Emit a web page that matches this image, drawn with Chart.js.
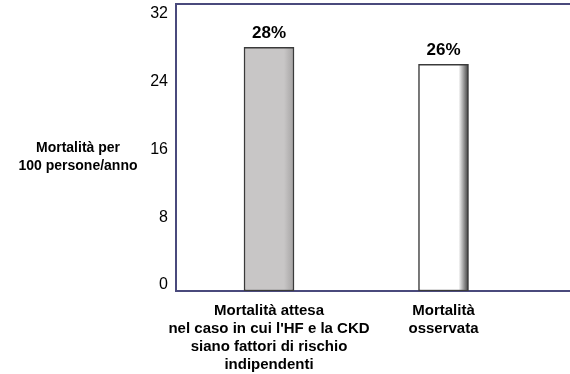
<!DOCTYPE html>
<html>
<head>
<meta charset="utf-8">
<script src="https://cdn.jsdelivr.net/npm/chart.js@4/dist/chart.umd.min.js"></script>
<style>
    body { margin: 0; background: #fff; }
    #wrap { width: 570px; height: 374px; position: relative; }
</style>
</head>
<body>
<div id="wrap"><canvas id="chart"></canvas></div>
<script>
// Data
const categories = [
    ['Mortalità attesa', "nel caso in cui l'HF e la CKD", 'siano fattori di rischio', 'indipendenti'],
    ['Mortalità', 'osservata']
];
const mortality = [28, 26];
const yTicks = [0, 8, 16, 24, 32];
const yTitle = ['Mortalità per', '100 persone/anno'];

const FONT = "'Liberation Sans', Arial, sans-serif";
const frameColor = '#4a4a7c';
const yMin = -0.7, yMax = 33.1;

// soft shadow on the right edge of each bar
const barFill = (ctx) => {
    const chart = ctx.chart;
    const base = ctx.dataIndex === 0 ? '#c8c6c6' : '#ffffff';
    if (!chart.chartArea) return base;
    const xc = chart.scales.x.getPixelForValue(ctx.dataIndex);
    const g = chart.ctx.createLinearGradient(xc - 25, 0, xc + 25, 0);
    g.addColorStop(0, base);
    g.addColorStop(0.8, base);
    g.addColorStop(1, ctx.dataIndex === 0 ? '#a4a2a2' : '#3c3c3c');
    return g;
};

const valueLabels = {
    id: 'valueLabels',
    afterDatasetsDraw(chart) {
        const c = chart.ctx;
        c.save();
        c.font = 'bold 17px ' + FONT;
        c.fillStyle = '#000';
        c.textAlign = 'center';
        c.textBaseline = 'bottom';
        chart.getDatasetMeta(0).data.forEach((el, i) => {
            c.fillText(mortality[i] + '%', el.x, el.y - 5);
        });
        c.restore();
    }
};

const sideTitle = {
    id: 'sideTitle',
    afterDraw(chart) {
        const c = chart.ctx;
        const yc = chart.scales.y.getPixelForValue(16) + 8;
        c.save();
        c.font = 'bold 14px ' + FONT;
        c.fillStyle = '#000';
        c.textAlign = 'center';
        c.textBaseline = 'middle';
        c.fillText(yTitle[0], 78, yc - 9);
        c.fillText(yTitle[1], 78, yc + 9);
        c.restore();
    }
};

new Chart(document.getElementById('chart'), {
    type: 'bar',
    data: {
        datasets: [{
            data: categories.map((c, i) => ({ x: i, y: mortality[i] })),
            base: yMin,
            backgroundColor: barFill,
            borderColor: '#3a3a3a',
            borderWidth: 1.5,
            borderSkipped: false,
            barThickness: 50
        }]
    },
    options: {
        responsive: true,
        maintainAspectRatio: false,
        animation: false,
        layout: { padding: { top: 4, left: 0, right: 0, bottom: 0 } },
        plugins: { legend: { display: false }, tooltip: { enabled: false } },
        scales: {
            x: {
                type: 'linear',
                position: 'bottom',
                offset: false,
                min: -0.533,
                max: 1.725,
                grid: { display: false, drawTicks: false },
                border: { color: frameColor, width: 2 },
                afterBuildTicks: (s) => { s.ticks = categories.map((c, i) => ({ value: i })); },
                afterFit: (s) => { s.height = 83; s.paddingLeft = 0; s.paddingRight = 0; },
                ticks: {
                    padding: 11,
                    maxRotation: 0,
                    autoSkip: false,
                    color: '#000',
                    font: { family: FONT, size: 15, weight: 'bold', lineHeight: 1.2 },
                    callback: (v) => categories[v]
                }
            },
            xTop: {
                type: 'linear',
                position: 'top',
                offset: false,
                grid: { display: false, drawTicks: false },
                border: { color: frameColor, width: 2 },
                ticks: { display: false },
                afterFit: (s) => { s.height = 0; s.paddingLeft = 0; s.paddingRight = 0; }
            },
            y: {
                min: yMin,
                max: yMax,
                grid: { display: false, drawTicks: false },
                border: { color: frameColor, width: 2 },
                afterBuildTicks: (s) => { s.ticks = yTicks.map(v => ({ value: v })); },
                afterFit: (s) => { s.width = 176; s.paddingTop = 0; s.paddingBottom = 0; },
                ticks: {
                    padding: 8,
                    color: '#000',
                    font: { family: FONT, size: 16 }
                }
            }
        }
    },
    plugins: [valueLabels, sideTitle]
});
</script>
</body>
</html>
